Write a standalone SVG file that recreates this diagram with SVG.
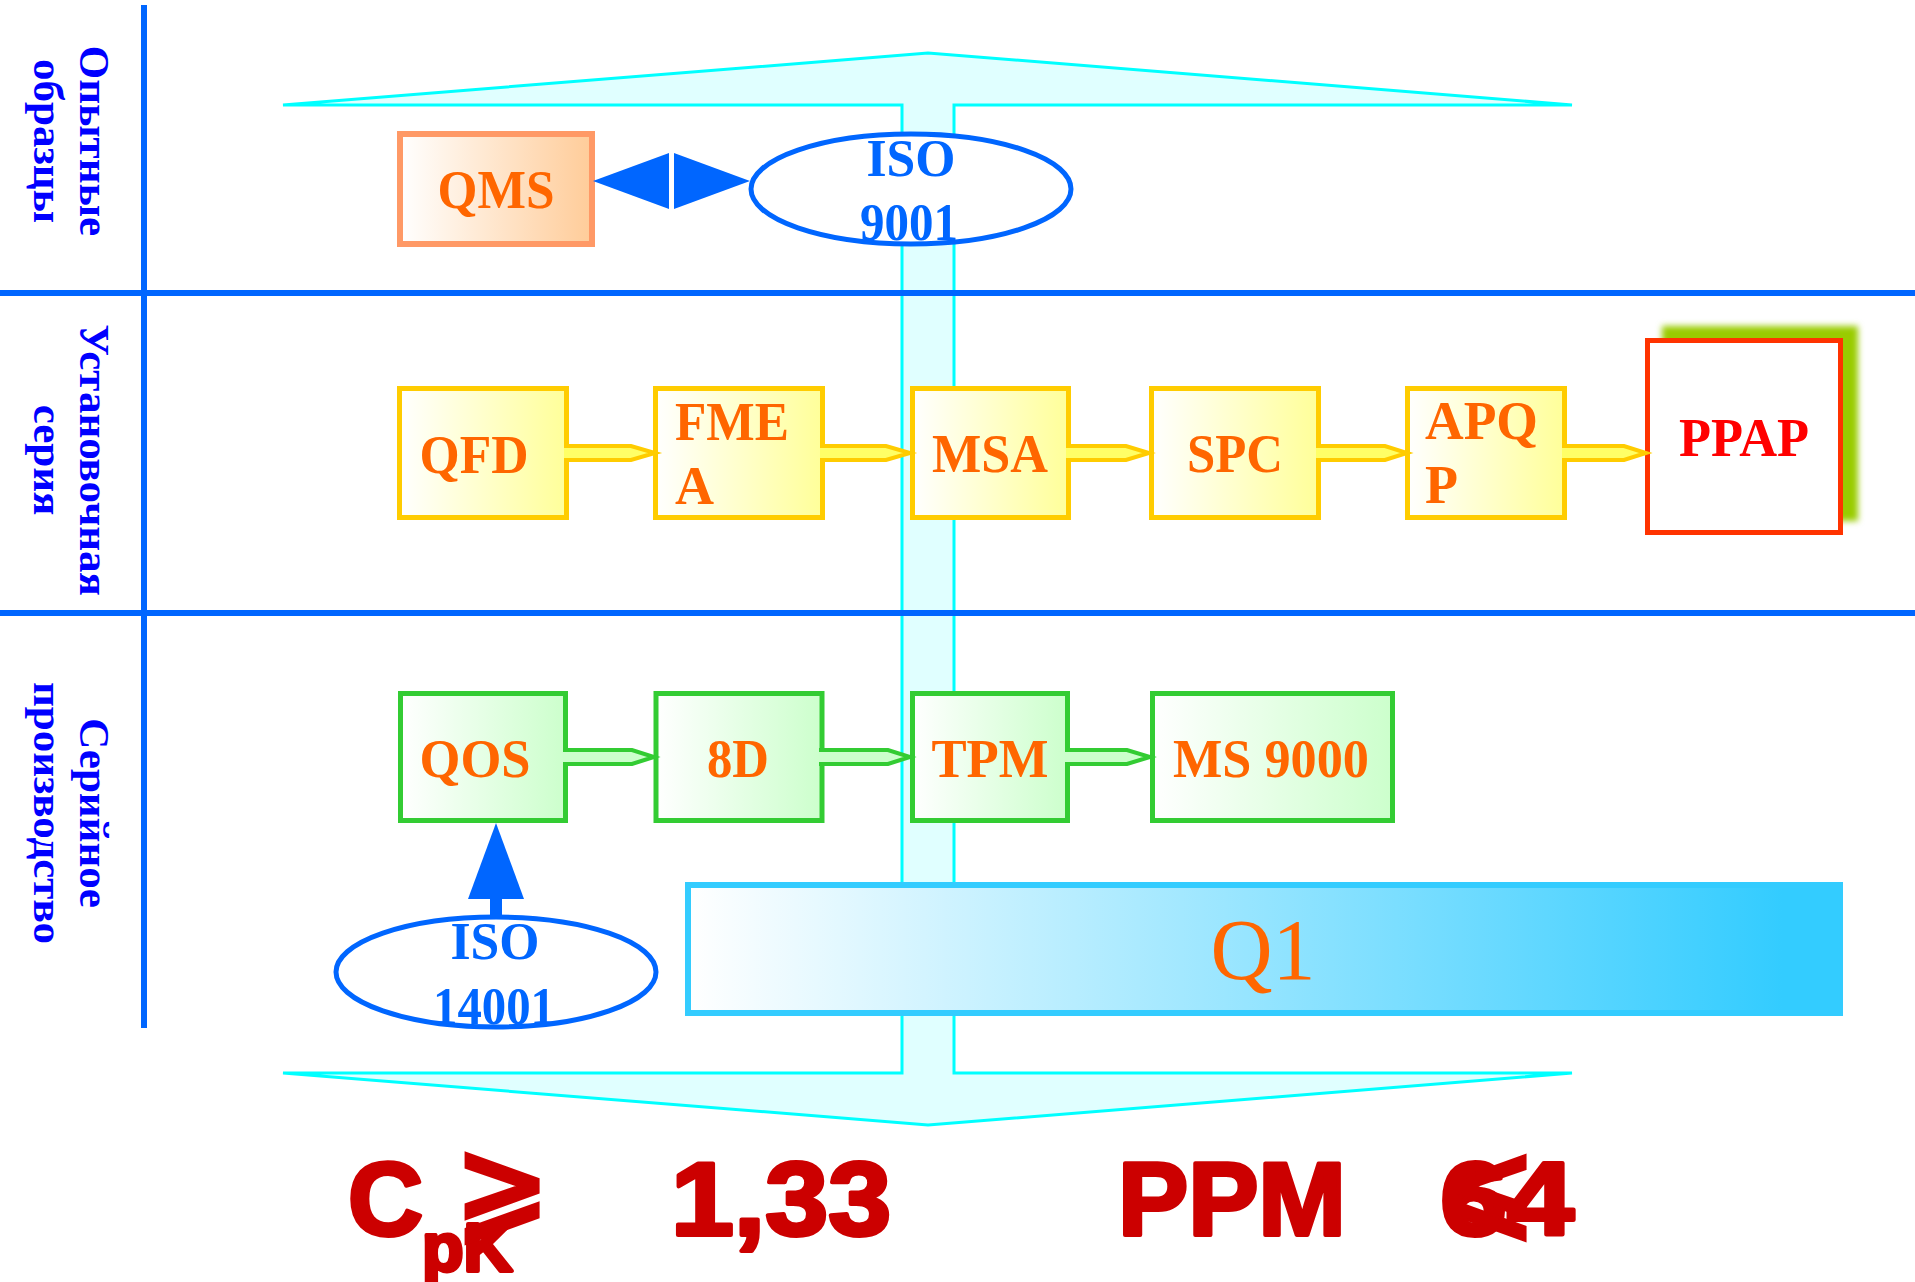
<svg xmlns="http://www.w3.org/2000/svg" width="1915" height="1282" viewBox="0 0 1915 1282">
<defs>
<linearGradient id="gQMS" x1="0" y1="0" x2="1" y2="0"><stop offset="0" stop-color="#FFFFFF"/><stop offset="1" stop-color="#FFCC99"/></linearGradient>
<linearGradient id="gY" x1="0" y1="0" x2="1" y2="0"><stop offset="0" stop-color="#FFFFFF"/><stop offset="1" stop-color="#FFFF99"/></linearGradient>
<linearGradient id="gG" x1="0" y1="0" x2="1" y2="0"><stop offset="0" stop-color="#FFFFFF"/><stop offset="1" stop-color="#CCFFCC"/></linearGradient>
<linearGradient id="gQ1" x1="0" y1="0" x2="1" y2="0"><stop offset="0" stop-color="#FFFFFF"/><stop offset="0.95" stop-color="#33CCFF"/></linearGradient>
<filter id="blur" x="-10%" y="-10%" width="120%" height="120%"><feGaussianBlur stdDeviation="3"/></filter>
</defs>
<style>
.lbl{font-family:"Liberation Serif","Times New Roman",serif;font-weight:bold;font-size:43px;fill:#0000FF;text-anchor:middle}
.bt{font-family:"Liberation Serif","Times New Roman",serif;font-weight:bold;font-size:54px;fill:#FF6600}
.mid{text-anchor:middle}
.ybox{fill:url(#gY);stroke:#FFCC00;stroke-width:5}
.gbox{fill:url(#gG);stroke:#33CC33;stroke-width:5}
.yc{fill:#FFFF66;stroke:#FFCC00;stroke-width:4}
.gc{fill:#CCFFCC;stroke:#33CC33;stroke-width:4}
.iso{fill:#FFFFFF;stroke:#0066FF;stroke-width:5}
.isot{font-family:"Liberation Serif","Times New Roman",serif;font-weight:bold;font-size:52px;fill:#0066FF;text-anchor:middle}
.big{font-family:"Liberation Sans",Arial,sans-serif;font-weight:bold;fill:#CC0000;stroke:#CC0000;stroke-width:4;stroke-linejoin:round}
.sym{font-family:"DejaVu Sans",sans-serif;font-weight:bold;fill:#CC0000;stroke:#CC0000;stroke-width:3}
.sep{stroke:#0066FF;stroke-width:6}
.blue{fill:#0066FF}
</style>

<g id="flow-arrow">
<path d="M283,105 L928,53 L1572,105 L954,105 L954,1073 L1572,1073 L928,1125 L283,1073 L902,1073 L902,105 Z" fill="#E0FFFF" stroke="#00FFFF" stroke-width="3"/>
</g>

<g id="separators">
<line class="sep" x1="144" y1="5" x2="144" y2="1028"/>
<line class="sep" x1="0" y1="293" x2="1915" y2="293"/>
<line class="sep" x1="0" y1="613" x2="1915" y2="613"/>
</g>

<g id="labels">
<g transform="translate(80,141) rotate(90)"><text class="lbl" x="0" y="0">Опытные</text><text class="lbl" x="0" y="46">образцы</text></g>
<g transform="translate(80,460) rotate(90)"><text class="lbl" x="0" y="0">Установочная</text><text class="lbl" x="0" y="46">серия</text></g>
<g transform="translate(80,813) rotate(90)"><text class="lbl" x="0" y="0">Серийное</text><text class="lbl" x="0" y="46">производство</text></g>
</g>

<g id="node-qms">
<rect x="400" y="134" width="192" height="110" fill="url(#gQMS)" stroke="#FF9966" stroke-width="6"/>
<text class="bt mid" x="496" y="208" textLength="117" lengthAdjust="spacingAndGlyphs">QMS</text>
</g>
<g id="node-iso9001">
<ellipse class="iso" cx="911" cy="189" rx="160" ry="55"/>
<text class="isot" x="911" y="176" textLength="89" lengthAdjust="spacingAndGlyphs">ISO</text>
<text class="isot" x="909" y="240" textLength="98" lengthAdjust="spacingAndGlyphs">9001</text>
</g>

<g id="node-qfd">
<rect class="ybox" x="399.5" y="388.5" width="167" height="129"/>
<text class="bt mid" x="474" y="473" textLength="109" lengthAdjust="spacingAndGlyphs">QFD</text>
</g>
<g id="node-fmea">
<rect class="ybox" x="655.5" y="388.5" width="167" height="129"/>
<text class="bt" x="675" y="440" textLength="114" lengthAdjust="spacingAndGlyphs">FME</text>
<text class="bt" x="675" y="504">A</text>
</g>
<g id="node-msa">
<rect class="ybox" x="912.5" y="388.5" width="156" height="129"/>
<text class="bt mid" x="990" y="472" textLength="116" lengthAdjust="spacingAndGlyphs">MSA</text>
</g>
<g id="node-spc">
<rect class="ybox" x="1151.5" y="388.5" width="167" height="129"/>
<text class="bt mid" x="1235" y="472" textLength="96" lengthAdjust="spacingAndGlyphs">SPC</text>
</g>
<g id="node-apqp">
<rect class="ybox" x="1407.5" y="388.5" width="157" height="129"/>
<text class="bt" x="1425" y="439" textLength="113" lengthAdjust="spacingAndGlyphs">APQ</text>
<text class="bt" x="1425" y="503">P</text>
</g>
<g id="node-ppap">
<rect x="1662" y="326" width="196" height="195" fill="#99CC00" filter="url(#blur)"/>
<rect x="1647.5" y="340.5" width="193" height="192" fill="#FFFFFF" stroke="#FF3300" stroke-width="5"/>
<text class="bt mid" x="1744" y="456" style="fill:#FF0000" textLength="130" lengthAdjust="spacingAndGlyphs">PPAP</text>
</g>

<g id="node-qos">
<rect class="gbox" x="400.5" y="693.5" width="165" height="127"/>
<text class="bt mid" x="475" y="777" textLength="111" lengthAdjust="spacingAndGlyphs">QOS</text>
</g>
<g id="node-8d">
<rect class="gbox" x="656" y="693.5" width="166" height="127"/>
<text class="bt mid" x="738" y="777" textLength="62" lengthAdjust="spacingAndGlyphs">8D</text>
</g>
<g id="node-tpm">
<rect class="gbox" x="912.5" y="693.5" width="155" height="127"/>
<text class="bt mid" x="990" y="777" textLength="117" lengthAdjust="spacingAndGlyphs">TPM</text>
</g>
<g id="node-ms9000">
<rect class="gbox" x="1152.5" y="693.5" width="240" height="127"/>
<text class="bt mid" x="1271" y="777" textLength="196" lengthAdjust="spacingAndGlyphs">MS 9000</text>
</g>

<g id="node-iso14001">
<ellipse class="iso" cx="496" cy="972" rx="160" ry="55"/>
<text class="isot" x="495" y="959" textLength="89" lengthAdjust="spacingAndGlyphs">ISO</text>
<text class="isot" x="494" y="1024" textLength="122" lengthAdjust="spacingAndGlyphs">14001</text>
</g>

<g id="node-q1">
<rect x="688" y="885" width="1152" height="128" fill="url(#gQ1)" stroke="#33CCFF" stroke-width="6"/>
<text x="1263" y="979" text-anchor="middle" font-family="Liberation Serif, Times New Roman, serif" font-size="86" fill="#FF6600">Q1</text>
</g>

<g id="connectors">
<path class="yc" d="M564,446 L631,446 L655,453 L631,460 L564,460"/>
<path class="yc" d="M820,446 L886,446 L910,453 L886,460 L820,460"/>
<path class="yc" d="M1066,446 L1126,446 L1149,453 L1126,460 L1066,460"/>
<path class="yc" d="M1316,446 L1385,446 L1407,453 L1385,460 L1316,460"/>
<path class="yc" d="M1562,446 L1624,446 L1646,453 L1624,460 L1562,460"/>
<path class="gc" d="M563,750 L632,750 L654,757 L632,764 L563,764"/>
<path class="gc" d="M819,750 L888,750 L910,757 L888,764 L819,764"/>
<path class="gc" d="M1065,750 L1127,750 L1150,757 L1127,764 L1065,764"/>
<polygon class="blue" points="593,181 669,153 669,209"/>
<polygon class="blue" points="674,153 750,181 674,209"/>
<rect class="blue" x="490" y="897" width="12" height="20"/>
<polygon class="blue" points="468,899 524,899 496,823"/>
</g>

<g id="formula">
<text class="big" x="348" y="1235" font-size="104">C</text>
<text class="big" x="422" y="1271" font-size="68">pK</text>
<text class="sym" x="454" y="1226" font-size="115">⩾</text>
<text class="big" x="671" y="1235" font-size="104" textLength="220" lengthAdjust="spacingAndGlyphs">1,33</text>
<text class="big" x="1118" y="1235" font-size="104" textLength="228" lengthAdjust="spacingAndGlyphs">PPM</text>
<text class="big" x="1440" y="1235" font-size="104" textLength="134" lengthAdjust="spacingAndGlyphs">64</text>
<text class="sym" x="1446" y="1224" font-size="108">⩽</text>
</g>
</svg>
